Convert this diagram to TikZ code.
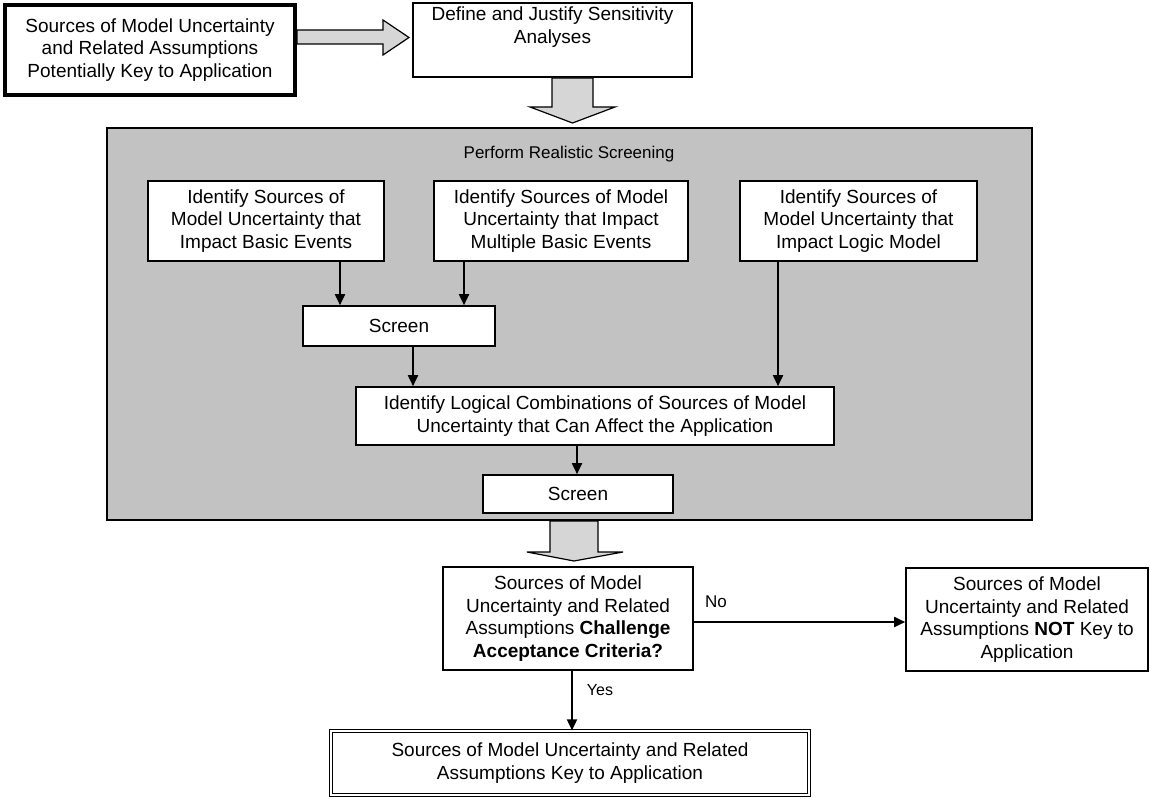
\documentclass[tikz,border=0pt]{standalone}
\usepackage{fontspec}
\setmainfont{Liberation Sans}
\usetikzlibrary{arrows.meta}
\begin{document}
\begin{tikzpicture}[x=1pt,y=-1pt,
  box/.style={draw, line width=1.6pt, fill=white, align=center, inner sep=0pt,
    font=\fontsize{19}{22.5}\selectfont},
  txt/.style={align=center, inner sep=0pt, font=\fontsize{19}{22.5}\selectfont},
  conn/.style={line width=1.8pt, -{Triangle[length=11pt,width=10pt]}},
  blk/.style={draw, line width=1.2pt, fill=black!16},
  lbl/.style={inner sep=0pt, font=\fontsize{16}{19}\selectfont}]
\useasboundingbox (0,0) rectangle (1150,799);

% top row
\node[box, line width=4pt, minimum width=290pt, minimum height=90pt] (src) at (150,50)
  {Sources of Model Uncertainty\\and Related Assumptions\\Potentially Key to Application};
\node[box, minimum width=279pt, minimum height=74pt] (def) at (552.5,40) {};
\node[txt] (deft) at (552.5,27) {Define and Justify Sensitivity\\Analyses};

% block arrow src -> def
\draw[blk] (297,30) -- (383,30) -- (383,20) -- (409,37.5) -- (383,55) -- (383,44) -- (297,44) -- cycle;

% big screening box
\node[draw, line width=1.2pt, fill=black!24, minimum width=925pt, minimum height=392pt] (scr) at (569.5,324) {};
\node[lbl, font=\fontsize{17}{20}\selectfont] (perf) at (569,154) {Perform Realistic Screening};

% block arrow def -> scr
\draw[blk] (552,78) -- (593,78) -- (593,107) -- (615,107) -- (572.5,123) -- (530,107) -- (552,107) -- cycle;

% inner boxes
\node[box, minimum width=236pt, minimum height=80pt] (b1) at (266,221)
  {Identify Sources of\\Model Uncertainty that\\Impact Basic Events};
\node[box, minimum width=254pt, minimum height=80pt] (b2) at (561,221)
  {Identify Sources of Model\\Uncertainty that Impact\\Multiple Basic Events};
\node[box, minimum width=237pt, minimum height=80pt] (b3) at (858.5,221)
  {Identify Sources of\\Model Uncertainty that\\Impact Logic Model};

\node[box, minimum width=192pt, minimum height=40pt] (s1) at (399,326) {Screen};
\node[box, minimum width=478pt, minimum height=58pt] (comb) at (595,416)
  {Identify Logical Combinations of Sources of Model\\Uncertainty that Can Affect the Application};
\node[box, minimum width=190pt, minimum height=38pt] (s2) at (578,494) {Screen};

\coordinate (x1) at (340,0);
\coordinate (x2) at (464,0);
\coordinate (x3) at (413,0);
\coordinate (x4) at (778,0);
\coordinate (x5) at (577,0);
\coordinate (x6) at (572,0);

\draw[conn] (b1.south -| x1) -- (s1.north -| x1);
\draw[conn] (b2.south -| x2) -- (s1.north -| x2);
\draw[conn] (s1.south -| x3) -- (comb.north -| x3);
\draw[conn] (b3.south -| x4) -- (comb.north -| x4);
\draw[conn] (comb.south -| x5) -- (s2.north -| x5);

% block arrow scr -> decision
\draw[blk] (550,521) -- (598,521) -- (598,552) -- (623,552) -- (574,561) -- (527,552) -- (550,552) -- cycle;

% bottom part
\node[box, minimum width=250pt, minimum height=103pt] (dec) at (568,618.5)
  {Sources of Model\\Uncertainty and Related\\Assumptions \textbf{Challenge}\\\textbf{Acceptance Criteria?}};
\node[box, minimum width=242pt, minimum height=103pt] (notk) at (1027,619.5)
  {Sources of Model\\Uncertainty and Related\\Assumptions \textbf{NOT} Key to\\Application};
\node[box, double, double distance=2pt, line width=1.2pt, minimum width=478pt, minimum height=64pt] (key) at (570,763)
  {Sources of Model Uncertainty and Related\\Assumptions Key to Application};

\coordinate (yn) at (0,622);
\draw[conn] (dec.east |- yn) -- (notk.west |- yn);
\node[lbl, font=\fontsize{17}{20}\selectfont] (no) at (716,602) {No};
\draw[conn] (dec.south -| x6) -- (key.north -| x6);
\node[lbl] (yes) at (600,690) {Yes};
\end{tikzpicture}
\end{document}
